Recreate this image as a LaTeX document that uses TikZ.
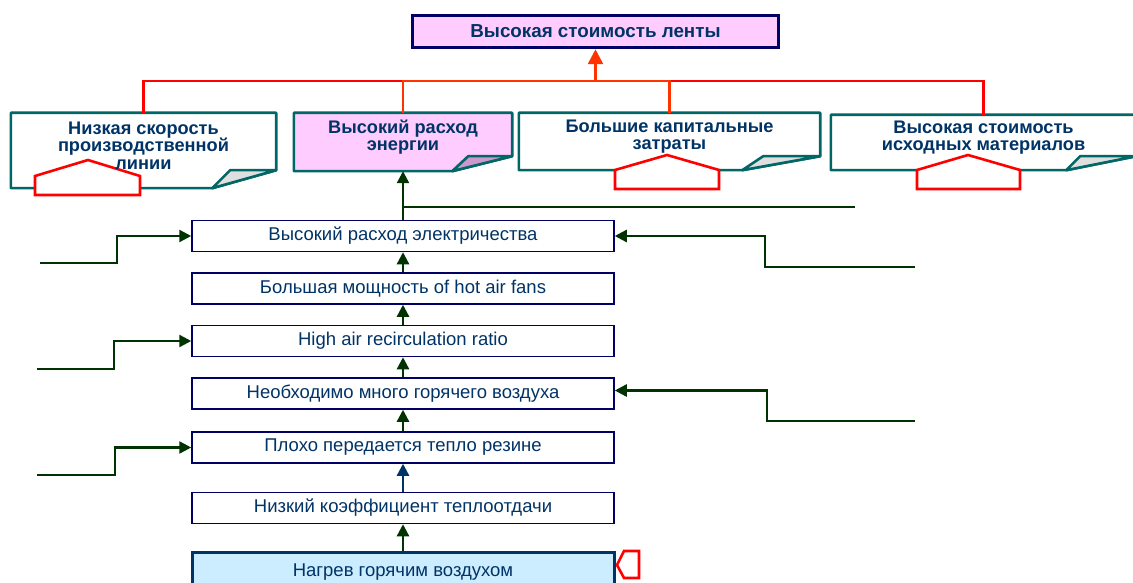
\documentclass[tikz,border=0pt]{standalone}
\usepackage{fontspec}
\setmainfont{Liberation Sans}
\usetikzlibrary{arrows.meta, backgrounds}

\definecolor{navy}{HTML}{003366}
\definecolor{deepblue}{HTML}{000066}
\definecolor{notegreen}{HTML}{006666}
\definecolor{leaf}{HTML}{003300}
\definecolor{pinkfill}{HTML}{FFCCFF}
\definecolor{flappink}{HTML}{CC99CC}
\definecolor{skyfill}{HTML}{CCECFF}
\definecolor{orangered}{HTML}{FF3300}

% outline of a note with a folded corner: name, fill, fold, rise, flap, flap fill
\newcommand{\notefold}[6]{%
    \draw[noteedge, fill=#2] (#1.south west) -- (#1.north west) -- (#1.north east)
        -- ([yshift=#4]#1.south east) -- ([xshift=-#3]#1.south east) -- cycle;
    \draw[noteedge, fill=#6] ([xshift=-#3]#1.south east) -- ([xshift=-#5, yshift=#4]#1.south east)
        -- ([yshift=#4]#1.south east) -- cycle;}

\begin{document}
\begin{tikzpicture}[x=1pt, y=-1pt, >={Triangle[length=12pt, width=12pt]},
    stepbox/.style={draw=deepblue, line width=1.5pt, fill=white, minimum width=422pt,
        minimum height=31pt, inner sep=0pt, text=navy, font=\fontsize{18.5}{19}\selectfont},
    note/.style={inner sep=0pt},
    notetext/.style={align=center, text=navy, yshift=5pt,
        font=\fontsize{18.2}{17.5}\selectfont\bfseries},
    noteedge/.style={draw=notegreen, line width=2.6pt, line join=round},
    redcap/.style={draw=red, line width=2.6pt, fill=white},
    redline/.style={line width=2.6pt},
    leafline/.style={draw=leaf, line width=2.4pt},
    leafarrow/.style={leafline, ->}]
    \useasboundingbox (0,0) rectangle (1133,583);

    \node[draw=deepblue, line width=3.5pt, fill=pinkfill, minimum width=366pt, minimum height=32pt,
        text=navy, font=\fontsize{18.8}{19}\selectfont\bfseries] (top) at (595.5,31.5)
        {Высокая стоимость ленты};

    \node[note, minimum width=265pt, minimum height=75pt,
        label={[notetext]center:{Низкая скорость\\производственной\\линии}}] (lsp) at (143.5,150.5) {};
    \node[note, minimum width=218pt, minimum height=58pt,
        label={[notetext]center:{Высокий расход\\энергии}}] (ene) at (403,142) {};
    \node[note, minimum width=301pt, minimum height=57pt,
        label={[notetext]center:{Большие капитальные\\затраты}}] (cap) at (669.5,141.5) {};
    \node[note, minimum width=305pt, minimum height=55pt,
        label={[notetext]center:{Высокая стоимость\\исходных материалов}}] (mat) at (983.5,142.5) {};

    \begin{scope}[on background layer]
        \notefold{lsp}{white}{64pt}{18pt}{46pt}{gray!25}
        \notefold{ene}{pinkfill}{60pt}{15pt}{44pt}{flappink}
        \notefold{cap}{white}{78pt}{14pt}{57pt}{gray!25}
        \notefold{mat}{white}{70pt}{14pt}{56pt}{gray!25}
        \draw[redcap] (35,195) -- (35,176) -- (88,160) -- (140,176) -- (140,195) -- cycle;
        \draw[redcap] (615,189) -- (615,170) -- (667,155) -- (719,170) -- (719,189) -- cycle;
        \draw[redcap] (917,189) -- (917,170) -- (968,155) -- (1020,170) -- (1020,189) -- cycle;
    \end{scope}

    \node[stepbox] (elec) at (403,236) {Высокий расход электричества};
    \node[stepbox] (fans) at (403,288.5) {Большая мощность of hot air fans};
    \node[stepbox] (recirc) at (403,341) {High air recirculation ratio};
    \node[stepbox] (air) at (403,393.5) {Необходимо много горячего воздуха};
    \node[stepbox] (poor) at (403,447.5) {Плохо передается тепло резине};
    \node[stepbox] (coef) at (403,508) {Низкий коэффициент теплоотдачи};
    \node[stepbox, draw=navy, line width=3pt, fill=skyfill, minimum height=36pt,
        text depth=0pt, text height=13pt] (hot) at (403,570) {Нагрев горячим воздухом};
    \draw[redcap] (617,565) -- (624,551) -- (639,551) -- (639,578) -- (624,578) -- cycle;

    % red tree to the top
    \coordinate (bar) at (595.5,81);
    \draw[redline, red] (lsp.north) |- (bar) -| (mat.north);
    \draw[redline, orangered] (ene.north) |- (bar) -| (cap.north);
    \draw[redline, orangered, -{Triangle[length=15pt, width=15pt]}] (bar) -- (top);

    % the chain
    \draw[leafarrow] (hot) -- (coef);
    \draw[leafline, draw=navy, ->] (coef) -- (poor);
    \draw[leafarrow] (poor) -- (air);
    \draw[leafarrow] (air) -- (recirc);
    \draw[leafarrow] (recirc) -- (fans);
    \draw[leafarrow] (fans) -- (elec);
    \draw[leafarrow] (elec) -- (ene);
    \coordinate (tapend) at (855,207);
    \draw[leafline] (tapend) -- (tapend -| elec);

    % inputs from the sides
    \coordinate (feedA) at (40,263);
    \coordinate (feedB) at (37,369);
    \coordinate (feedC) at (37,475);
    \coordinate (feedD) at (915,267);
    \coordinate (feedE) at (915,421);
    \draw[leafarrow] (feedA) -- ++(77,0) |- (elec);
    \draw[leafarrow] (feedB) -- ++(77,0) |- (recirc);
    \draw[leafarrow] (feedC) -- ++(78,0) |- (poor);
    \draw[leafarrow] (feedD) -- ++(-150,0) |- (elec);
    \draw[leafarrow] (feedE) -- ++(-148,0) |- ([yshift=3pt]air.east);
\end{tikzpicture}
\end{document}
